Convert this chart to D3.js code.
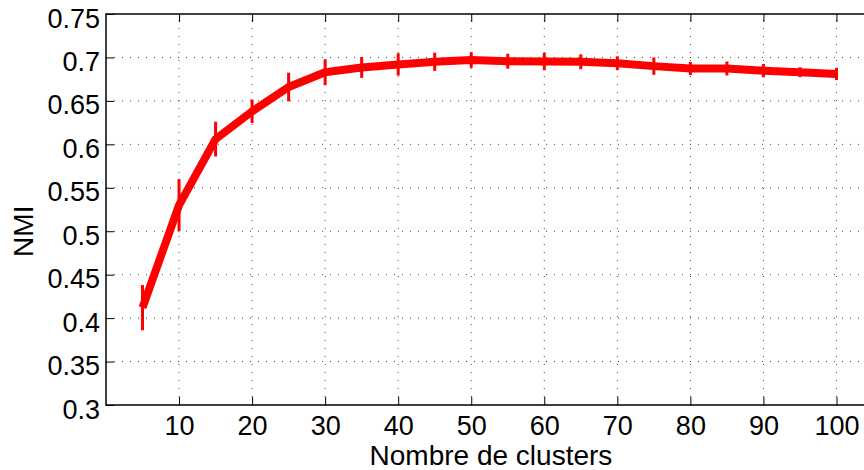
<!DOCTYPE html>
<html>
<head>
<meta charset="utf-8">
<script src="https://cdn.jsdelivr.net/npm/d3@7"></script>
<style>
  body { margin: 0; background: #fff; }
  svg { display: block; font-family: "Liberation Sans", Arial, sans-serif; }
</style>
</head>
<body>
<svg id="chart"></svg>
<script>
const clusters = [5, 10, 15, 20, 25, 30, 35, 40, 45, 50, 55, 60, 65, 70, 75, 80, 85, 90, 95, 100];
const nmi = [0.412, 0.530, 0.606, 0.638, 0.666, 0.683, 0.6885, 0.692, 0.695, 0.697, 0.6957, 0.6953, 0.695, 0.6933, 0.690, 0.6873, 0.6873, 0.6848, 0.683, 0.681];
const nmiErr = [0.026, 0.030, 0.020, 0.0136, 0.0165, 0.015, 0.012, 0.0128, 0.0105, 0.009, 0.0086, 0.010, 0.0086, 0.008, 0.010, 0.0075, 0.008, 0.0077, 0.0057, 0.007];
const xTicks = [10, 20, 30, 40, 50, 60, 70, 80, 90, 100];
const yTicks = [0.3, 0.35, 0.4, 0.45, 0.5, 0.55, 0.6, 0.65, 0.7, 0.75];

const width = 864, height = 470;
const margin = { top: 14, right: -9, bottom: 65, left: 106 };

const svg = d3.select('#chart')
  .attr('width', width)
  .attr('height', height);

const x = d3.scaleLinear().domain([0, 105]).range([margin.left, width - margin.right]);
const y = d3.scaleLinear().domain([0.3, 0.75]).range([height - margin.bottom, margin.top]);

const x0 = x.range()[0], x1 = x.range()[1];
const y0 = y.range()[0], y1 = y.range()[1];

// dotted grid
svg.append('g')
  .selectAll('line')
  .data(xTicks)
  .join('line')
  .attr('x1', d => x(d)).attr('x2', d => x(d))
  .attr('y1', y0).attr('y2', y1)
  .attr('stroke', '#444')
  .attr('stroke-width', 1)
  .attr('stroke-dasharray', '1,7');

svg.append('g')
  .selectAll('line')
  .data(yTicks.slice(1, -1))
  .join('line')
  .attr('x1', x0).attr('x2', x1)
  .attr('y1', d => y(d)).attr('y2', d => y(d))
  .attr('stroke', '#444')
  .attr('stroke-width', 1)
  .attr('stroke-dasharray', '1,7');

// axes with inward ticks
const tickFont = '27px';
const titleFont = '28px';

const xAxis = svg.append('g')
  .attr('transform', `translate(0,${y0})`)
  .call(d3.axisBottom(x).tickValues(xTicks).tickSize(-8).tickPadding(11).tickFormat(d3.format('d')));
xAxis.select('.domain').remove();
xAxis.selectAll('text').attr('font-size', tickFont).attr('fill', '#000').attr('font-family', '"Liberation Sans", Arial, sans-serif');
xAxis.selectAll('line').attr('stroke', '#000');

const xTop = svg.append('g')
  .attr('transform', `translate(0,${y1})`)
  .call(d3.axisTop(x).tickValues(xTicks).tickSize(-8).tickFormat(''));
xTop.select('.domain').remove();
xTop.selectAll('line').attr('stroke', '#000');

const yAxis = svg.append('g')
  .attr('transform', `translate(${x0},0)`)
  .call(d3.axisLeft(y).tickValues(yTicks).tickSize(-8).tickPadding(6).tickFormat(d => String(+d.toFixed(2))));
yAxis.select('.domain').remove();
yAxis.selectAll('text').attr('font-size', tickFont).attr('fill', '#000').attr('dy', '13px').attr('font-family', '"Liberation Sans", Arial, sans-serif');
yAxis.selectAll('line').attr('stroke', '#000');

// frame
svg.append('path')
  .attr('d', `M${x1},${y1}H${x0}V${y0}H${x1}`)
  .attr('fill', 'none')
  .attr('stroke', '#000')
  .attr('stroke-width', 1.5);

// series line
const pts = clusters.map((c, i) => ({ c, v: nmi[i], e: nmiErr[i] }));

svg.append('path')
  .datum(pts)
  .attr('d', d3.line().x(d => x(d.c)).y(d => y(d.v)))
  .attr('fill', 'none')
  .attr('stroke', '#ff0000')
  .attr('stroke-width', 8)
  .attr('stroke-linejoin', 'round');

// error bars
svg.append('g')
  .selectAll('line')
  .data(pts)
  .join('line')
  .attr('x1', d => x(d.c)).attr('x2', d => x(d.c))
  .attr('y1', d => y(d.v - d.e)).attr('y2', d => y(d.v + d.e))
  .attr('stroke', '#ff0000')
  .attr('stroke-width', 3);

// labels
svg.append('text')
  .attr('x', x(52.7))
  .attr('y', 465)
  .attr('text-anchor', 'middle')
  .attr('font-size', titleFont)
  .text('Nombre de clusters');

svg.append('text')
  .attr('transform', `translate(33,${y(0.5)}) rotate(-90)`)
  .attr('text-anchor', 'middle')
  .attr('font-size', titleFont)
  .text('NMI');
</script>
</body>
</html>
